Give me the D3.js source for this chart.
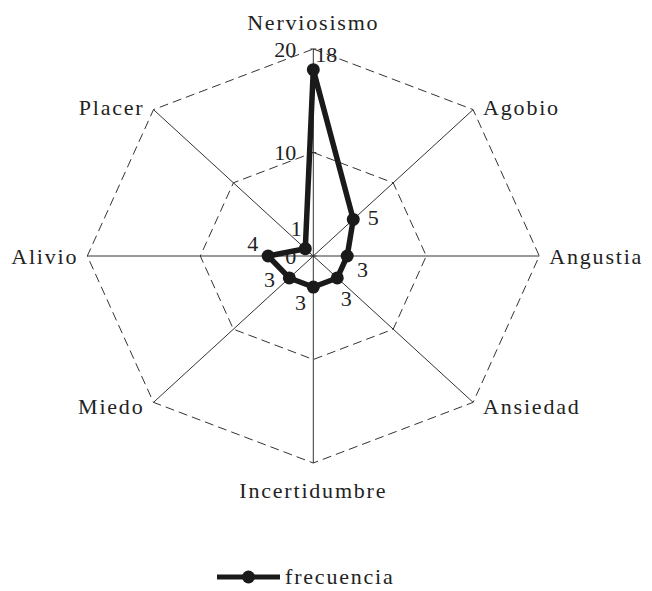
<!DOCTYPE html>
<html>
<head>
<meta charset="utf-8">
<script src="https://cdn.jsdelivr.net/npm/d3@7"></script>
<style>
  body { margin: 0; background: #fff; }
  text { font-family: "Liberation Serif", "Times New Roman", serif; fill: #222; }
</style>
</head>
<body>
<script>
var categories = ["Nerviosismo", "Agobio", "Angustia", "Ansiedad",
                  "Incertidumbre", "Miedo", "Alivio", "Placer"];
var frecuencia = [18, 5, 3, 3, 3, 3, 4, 1];
var tick_values = [0, 10, 20];
var series_name = "frecuencia";

var width = 652, height = 591;
var cx = 313.3, cy = 256;
var rx = 226, ry = 207;

var svg = d3.select("body").append("svg")
    .attr("width", width)
    .attr("height", height);

var r = d3.scaleLinear().domain([0, 20]).range([0, 1]);
var angle = d3.scaleLinear().domain([0, categories.length]).range([0, 2 * Math.PI]);

// point on axis i at value v (ellipse, since the chart is stretched)
var pos = function(i, v){
    var a = angle(i);
    return [cx + Math.sin(a) * r(v) * rx, cy - Math.cos(a) * r(v) * ry];
}

// rings at 10 and 20, dashed
var rings = svg.append("g");
tick_values.filter(function(t){ return t > 0; }).forEach(function(t){
    var pts = categories.map(function(c, i){ return pos(i, t); });
    rings.append("path")
        .attr("d", d3.line()(pts) + "Z")
        .style("fill", "none")
        .style("stroke", "#333")
        .style("stroke-width", 1)
        .style("stroke-dasharray", "9,5");
});

// spokes
svg.append("g").selectAll("line")
    .data(categories).enter().append("line")
    .attr("x1", cx).attr("y1", cy)
    .attr("x2", function(d, i){ return pos(i, 20)[0]; })
    .attr("y2", function(d, i){ return pos(i, 20)[1]; })
    .style("stroke", "#333")
    .style("stroke-width", 1);

// tick marks and labels on the first axis
var ticks = svg.append("g");
tick_values.forEach(function(t){
    var p = pos(0, t);
    ticks.append("line")
        .attr("x1", p[0] - 3).attr("x2", p[0] + 3)
        .attr("y1", p[1]).attr("y2", p[1])
        .style("stroke", "#333");
    ticks.append("text")
        .attr("x", p[0] - 17)
        .attr("y", p[1])
        .attr("dy", "0.35em")
        .attr("text-anchor", "end")
        .style("font-size", "22px")
        .text(t);
});

// category labels
svg.append("g").selectAll("text")
    .data(categories).enter().append("text")
    .each(function(d, i){
        var a = angle(i);
        var p = pos(i, 20);
        var s = Math.sin(a), c = Math.cos(a);
        var anchor = Math.abs(s) < 0.1 ? "middle" : (s > 0 ? "start" : "end");
        var x = p[0], y = p[1];
        if(anchor == "middle"){
            y = y - c * 27;
        } else {
            x = x + (s > 0 ? 10 : -9);
            y = y + (c < -0.1 ? 4 : (c > 0.1 ? -2 : 0));
        }
        d3.select(this)
            .attr("x", x).attr("y", y)
            .attr("dy", "0.35em")
            .attr("text-anchor", anchor);
    })
    .style("font-size", "22px")
    .style("letter-spacing", "1.8px")
    .text(function(d){ return d; });

// data line
var pts = frecuencia.map(function(v, i){ return pos(i, v); });
svg.append("path")
    .attr("d", d3.line()(pts) + "Z")
    .style("fill", "none")
    .style("stroke", "#1a1a1a")
    .style("stroke-width", 5.5)
    .style("stroke-linejoin", "round");

svg.append("g").selectAll("circle")
    .data(pts).enter().append("circle")
    .attr("cx", function(d){ return d[0]; })
    .attr("cy", function(d){ return d[1]; })
    .attr("r", 6.5)
    .style("fill", "#1a1a1a");

// value labels, beside each point, kept clear of the line
var label_pos = function(i){
    var a = angle(i) - Math.PI / 2 + 40 * Math.PI / 180;
    var dx = Math.cos(a) * 20, dy = Math.sin(a) * 20;
    if(Math.abs(dx) < 9) dx = (dx < 0 ? -9 : 9);
    return [pts[i][0] + dx, pts[i][1] + dy];
}
svg.append("g").selectAll("text")
    .data(frecuencia).enter().append("text")
    .attr("x", function(d, i){ return label_pos(i)[0]; })
    .attr("y", function(d, i){ return label_pos(i)[1]; })
    .attr("dy", "0.35em")
    .attr("text-anchor", "middle")
    .style("font-size", "22px")
    .text(function(d){ return d; });

// legend
var legend = svg.append("g");
legend.append("line")
    .attr("x1", 217).attr("x2", 280)
    .attr("y1", 577).attr("y2", 577)
    .style("stroke", "#1a1a1a")
    .style("stroke-width", 5);
legend.append("circle")
    .attr("cx", 248.5).attr("cy", 577).attr("r", 6.5)
    .style("fill", "#1a1a1a");
legend.append("text")
    .attr("x", 285).attr("y", 584)
    .style("font-size", "22px")
    .style("letter-spacing", "1.8px")
    .text(series_name);
</script>
</body>
</html>
